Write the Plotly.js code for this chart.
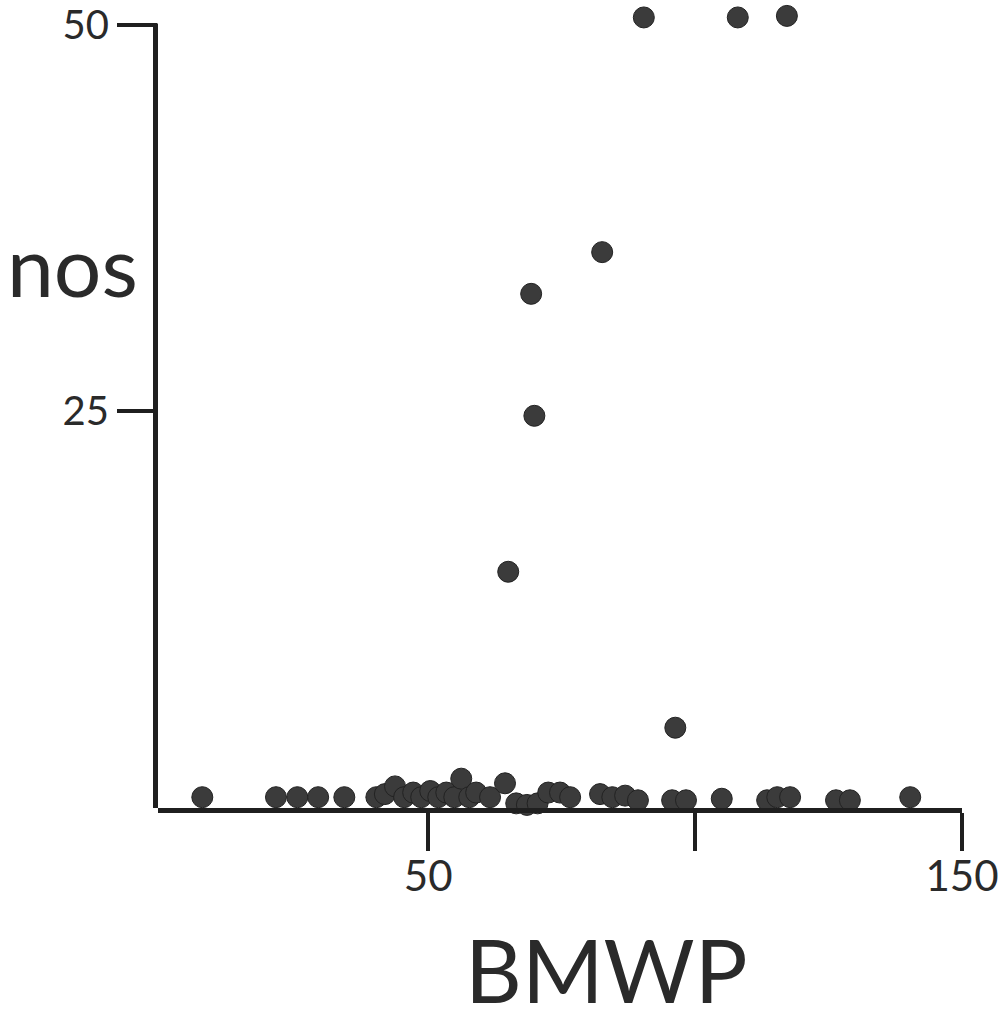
<!DOCTYPE html>
<html>
<head>
<meta charset="utf-8">
<script src="https://cdn.plot.ly/plotly-3.0.1.min.js"></script>
<style>html,body{margin:0;padding:0;background:#fff;}#chart{width:999px;height:1023px;}</style>
</head>
<body>
<div id="chart"></div>
<script>
// BMWP score (x) vs nos (y)
const bmwp = [7.7, 21.5, 25.5, 29.4, 34.3,
  40.3, 41.9, 43.8, 45.5, 47.2, 48.7, 50.4, 51.9, 53.4, 54.9, 56.2, 57.7, 59.0,
  61.6, 64.4, 66.5, 68.5, 70.5, 72.5, 74.7, 76.6,
  82.2, 84.5, 86.9, 89.3, 95.7, 98.3, 105.0,
  113.5, 115.4, 117.8, 126.4, 129.0, 140.3,
  65.0, 69.3, 69.9, 82.6, 96.3, 90.4, 108.0, 117.2];
const nos = [0, 0, 0, 0, 0,
  0, 0.2, 0.7, 0, 0.3, 0, 0.4, 0, 0.3, 0, 1.2, 0, 0.3,
  0, 0.9, -0.4, -0.5, -0.4, 0.3, 0.3, 0,
  0.2, 0, 0.1, -0.2, -0.2, -0.2, -0.1,
  -0.2, 0, 0, -0.2, -0.2, 0,
  14.6, 32.6, 24.7, 35.3, 4.5, 50.5, 50.5, 50.6];
const xTickVals = [50, 100, 150];
const xTickText = ["50", "", "150"];
const yTickVals = [25, 50];
const yTickText = ["25", "50"];
const xTitle = "BMWP";
const yTitle = "nos";

const ink = '#1f1f1f';
const fontFam = 'Lato, "Open Sans", sans-serif';

Plotly.newPlot('chart', [{
  type: 'scatter', mode: 'markers', x: bmwp, y: nos, cliponaxis: false,
  marker: {size: 21, color: '#3b3b3b', line: {color: '#222', width: 1}},
  hoverinfo: 'x+y'
}], {
  width: 999, height: 1023,
  margin: {l: 158, r: 37, t: 2, b: 215},
  paper_bgcolor: '#fff', plot_bgcolor: '#fff',
  showlegend: false,
  xaxis: {
    range: [-0.6, 150], showgrid: false, zeroline: false,
    showline: true, linecolor: ink, linewidth: 5,
    ticks: 'outside', ticklen: 38, tickwidth: 4, tickcolor: ink,
    tickvals: xTickVals, ticktext: xTickText, ticklabelstandoff: -10,
    tickfont: {family: fontFam, size: 42, color: '#2a2a2a'}
  },
  yaxis: {
    range: [-0.7, 51.5], showgrid: false, zeroline: false,
    showline: false,
    ticks: 'outside', ticklen: 40, tickwidth: 4, tickcolor: ink,
    tickvals: yTickVals, ticktext: yTickText,
    tickfont: {family: fontFam, size: 40, color: '#2a2a2a'}
  },
  shapes: [
    {type: 'line', xref: 'paper', yref: 'y', x0: -0.0031, x1: -0.0031, y0: -0.87, y1: 50.1,
     line: {color: ink, width: 5}, layer: 'below'}
  ],
  annotations: [
    {text: yTitle, xref: 'paper', yref: 'paper', x: -0.106, y: 0.674,
     xanchor: 'center', yanchor: 'middle', showarrow: false,
     font: {family: fontFam, size: 84, color: '#2a2a2a'}},
    {text: xTitle, xref: 'paper', yref: 'paper', x: 0.558, y: -0.2,
     xanchor: 'center', yanchor: 'middle', showarrow: false,
     font: {family: fontFam, size: 88, color: '#2a2a2a'}}
  ]
}, {displayModeBar: false, staticPlot: true});
</script>
</body>
</html>
